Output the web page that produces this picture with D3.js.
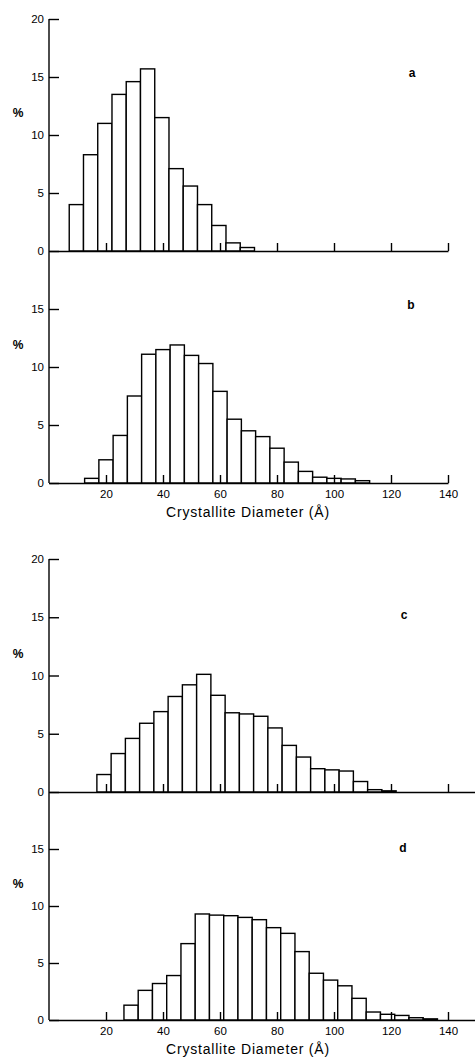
<!DOCTYPE html>
<html lang="en">
<head>
  <meta charset="utf-8">
  <script src="https://d3js.org/d3.v7.min.js"></script>
  <style>
    body {
      margin: 0;
      background: #fff;
    }
    svg {
      font-family: "Liberation Sans", Arial, sans-serif;
    }
    .bar {
      fill: #fff;
      stroke: #000;
      stroke-width: 1.4;
    }
    .axis path, .axis line {
      stroke: #000;
      stroke-width: 1.4;
    }
    .axis text {
      font-size: 11.5px;
      fill: #000;
    }
    .pct, .panel-label {
      font-size: 12px;
      font-weight: bold;
    }
    .axis-title {
      font-size: 14px;
      letter-spacing: 0.8px;
    }
  </style>
</head>
<body>
  <svg id="chart" width="475" height="1060"></svg>
  <script>
    // histogram bins are 5 A wide; lower edge of first bin
    var binWidth = 5;
    var aStart = 7.1, bStart = 12.5, cStart = 16.8, dStart = 26.3;

    var aValues = [4.0, 8.3, 11.0, 13.5, 14.6, 15.7, 11.5, 7.1, 5.6, 4.0, 2.2, 0.7, 0.3];
    var bValues = [0.4, 2.0, 4.1, 7.5, 11.1, 11.5, 11.9, 11.0, 10.3, 7.9, 5.5, 4.5, 4.0, 3.0, 1.8, 1.0, 0.5, 0.4, 0.35, 0.2];
    var cValues = [1.5, 3.3, 4.6, 5.9, 6.9, 8.2, 9.2, 10.1, 8.3, 6.8, 6.7, 6.5, 5.5, 4.0, 3.0, 2.0, 1.9, 1.8, 0.9, 0.2, 0.1];
    var dValues = [1.3, 2.6, 3.2, 3.9, 6.7, 9.3, 9.2, 9.15, 9.0, 8.8, 8.1, 7.6, 6.0, 4.1, 3.5, 3.0, 1.9, 0.7, 0.5, 0.4, 0.2, 0.1];

    var xTicks = [20, 40, 60, 80, 100, 120, 140];
    var yTicksFull = [0, 5, 10, 15, 20];
    var yTicksLower = [0, 5, 10, 15];
    var xTitle = "Crystallite Diameter (Å)";

    var svg = d3.select("#chart");
    var axisX0 = 49, pxPerUnit = 2.85;

    var panels = [
      { label: "a", start: aStart, values: aValues, top: 19,  bottom: 251,  xMax: 140, yTicks: yTicksFull,  xLabels: false, lx: 412, ly: 77 },
      { label: "b", start: bStart, values: bValues, top: 251, bottom: 483,  xMax: 140, yTicks: yTicksLower, xLabels: true,  lx: 411, ly: 309 },
      { label: "c", start: cStart, values: cValues, top: 559, bottom: 792,  xMax: 150, yTicks: yTicksFull,  xLabels: false, lx: 404, ly: 619 },
      { label: "d", start: dStart, values: dValues, top: 792, bottom: 1020, xMax: 150, yTicks: yTicksLower, xLabels: true,  lx: 403, ly: 852 }
    ];

    panels.forEach(function(p) {
      var x = d3.scaleLinear()
          .domain([0, p.xMax])
          .range([axisX0, axisX0 + p.xMax * pxPerUnit]);
      var y = d3.scaleLinear()
          .domain([0, 20])
          .range([p.bottom, p.top]);

      var g = svg.append("g");

      g.selectAll("rect")
        .data(p.values)
        .enter().append("rect")
          .attr("class", "bar")
          .attr("x", function(d, i) { return x(p.start + i * binWidth); })
          .attr("width", function(d, i) { return x(p.start + (i + 1) * binWidth) - x(p.start + i * binWidth); })
          .attr("y", function(d) { return y(d); })
          .attr("height", function(d) { return y(0) - y(d); });

      // x axis, ticks pointing up into the plot
      var xAxis = d3.axisBottom(x)
          .tickValues(p.xMax === 150 ? xTicks.concat([150]) : xTicks)
          .tickSizeInner(-8)
          .tickSizeOuter(0)
          .tickPadding(7)
          .tickFormat(function(d) { return p.xLabels && d <= 140 ? d : ""; });

      g.append("g")
        .attr("class", "axis")
        .attr("transform", "translate(0," + y(0) + ")")
        .call(xAxis);

      // y axis, ticks pointing right
      var yAxis = d3.axisLeft(y)
          .tickValues(p.yTicks)
          .tickSizeInner(-10)
          .tickSizeOuter(0)
          .tickPadding(5);

      g.append("g")
        .attr("class", "axis")
        .attr("transform", "translate(" + axisX0 + ",0)")
        .call(yAxis)
        .select(".domain")
          .attr("d", "M0," + p.top + "V" + p.bottom);

      g.append("text")
        .attr("class", "pct")
        .attr("x", 18)
        .attr("y", y(10) - 18)
        .attr("text-anchor", "middle")
        .text("%");

      g.append("text")
        .attr("class", "panel-label")
        .attr("x", p.lx)
        .attr("y", p.ly)
        .attr("text-anchor", "middle")
        .text(p.label);

      if (p.xLabels) {
        g.append("text")
          .attr("class", "axis-title")
          .attr("x", 248)
          .attr("y", y(0) + 34)
          .attr("text-anchor", "middle")
          .text(xTitle);
      }
    });
  </script>
</body>
</html>
